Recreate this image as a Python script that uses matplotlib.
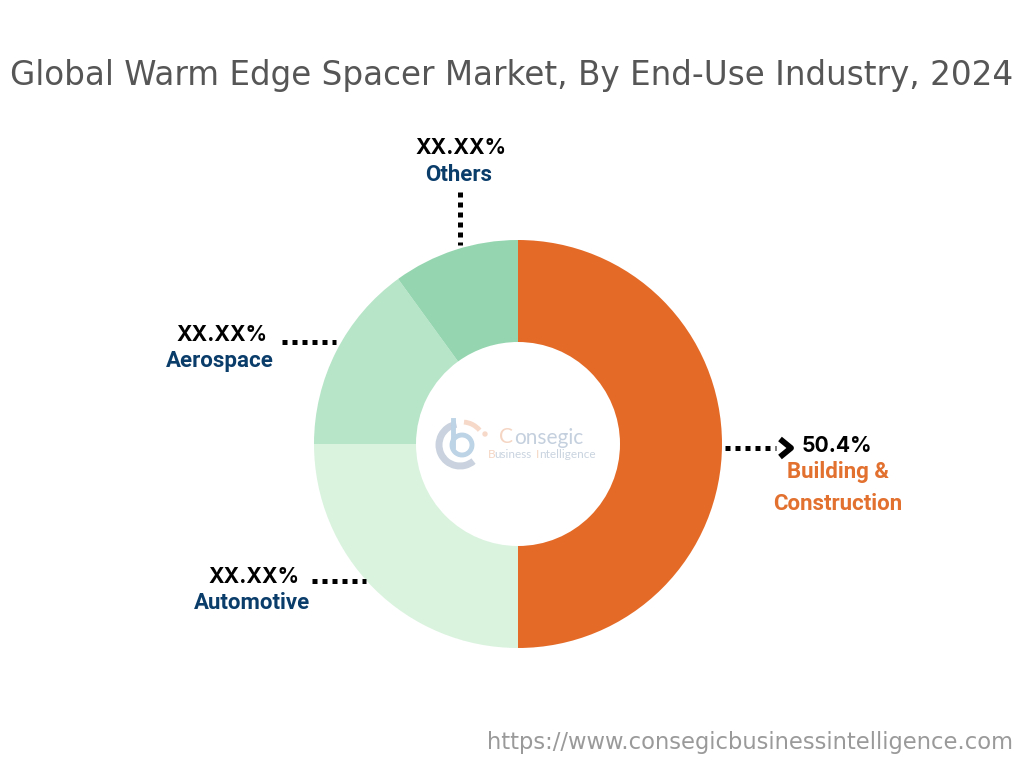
import matplotlib
matplotlib.use('Agg')
from matplotlib import pyplot as plt
from matplotlib.patches import Arc, Circle

# data
categories = ['Building &\nConstruction', 'Automotive', 'Aerospace', 'Others']
shares = [50, 25, 15, 10]
share_labels = ['50.4%', 'XX.XX%', 'XX.XX%', 'XX.XX%']
colors = ['#e46a27', '#daf3df', '#b7e5c8', '#95d6b0']

title = 'Global Warm Edge Spacer Market, By End-Use Industry, 2024'
url = 'https://www.consegicbusinessintelligence.com'

W, H = 1024, 768
fig = plt.figure(figsize=(W / 100, H / 100), dpi=100)

# donut, axes placed so that the circle sits at (518, 444) with radius 204
cx, cy, r = 518, 444, 204
pie_ax = fig.add_axes([(cx - r) / W, 1 - (cy + r) / H, 2 * r / W, 2 * r / H])
pie_ax.pie(shares, colors=colors, startangle=90, counterclock=False, radius=1,
           wedgeprops={'width': 0.5, 'linewidth': 0})
pie_ax.set_xlim(-1, 1)
pie_ax.set_ylim(-1, 1)

# overlay in pixel coordinates for the annotation
ax = fig.add_axes([0, 0, 1, 1])
ax.set_xlim(0, W)
ax.set_ylim(H, 0)
ax.axis('off')
ax.patch.set_alpha(0)

ax.text(512, 76, title, ha='center', va='center', fontsize=23.5,
        family='DejaVu Sans', color='#565656')
ax.text(1013, 743, url, ha='right', va='center', fontsize=16.3,
        family='DejaVu Sans', color='#9a9a9a')

# value label, name label, dotted leader
value_pos = [(837, 446), (254, 577), (222, 335), (461, 148)]
name_pos = [(838, 488), (252, 603), (220, 361), (459, 175)]
name_colors = ['#e2702f', '#0b3d6b', '#0b3d6b', '#0b3d6b']
leaders = [((725, 448), (776, 448)), ((312, 581), (366, 581)),
           ((282, 342), (336, 342)), ((460, 192), (460, 245))]

for i in range(len(categories)):
    ax.text(value_pos[i][0], value_pos[i][1], share_labels[i], ha='center', va='center',
            fontsize=15.2, family='Inter', fontweight='bold', color='black')
    ax.text(name_pos[i][0], name_pos[i][1], categories[i], ha='center', va='center',
            fontsize=16, family='Roboto', fontweight='bold', color=name_colors[i],
            linespacing=1.6)
    (x0, y0), (x1, y1) = leaders[i]
    ax.plot([x0, x1], [y0, y1], color='black', lw=3.6, linestyle=(0, (1, 1)),
            dash_capstyle='butt')

# arrow head on the main leader
ax.plot([780, 791, 780], [439, 448, 457], color='black', lw=4.2, solid_capstyle='butt')

# faded logo in the hole
ax.add_patch(Arc((460, 445), 42, 42, theta1=50, theta2=260, color='#c9d2de', lw=5))
ax.add_patch(Circle((462, 445), 10, fill=False, ec='#bdd3e6', lw=3.5))
ax.plot([453, 453], [420, 446], color='#bdd3e6', lw=3.5)
ax.add_patch(Arc((462, 445), 46, 46, theta1=275, theta2=320, color='#f6d9c9', lw=3.5))
ax.add_patch(Circle((485, 434), 2, color='#f6d9c9'))
ax.text(499, 437, 'C', ha='left', va='center', fontsize=15, family='Lato', color='#f5d5c3')
ax.text(514, 438, 'onsegic', ha='left', va='center', fontsize=15, family='Lato', color='#c5d0de')
ax.text(488, 454, 'B', ha='left', va='center', fontsize=8.5, family='Lato', color='#f5d5c3')
ax.text(494, 454, 'usiness', ha='left', va='center', fontsize=8.5, family='Lato', color='#c9d3df')
ax.text(536, 454, 'I', ha='left', va='center', fontsize=8.5, family='Lato', color='#f5d5c3')
ax.text(539, 454, 'ntelligence', ha='left', va='center', fontsize=8.5, family='Lato', color='#c9d3df')

fig.savefig('out.png', dpi=100)
